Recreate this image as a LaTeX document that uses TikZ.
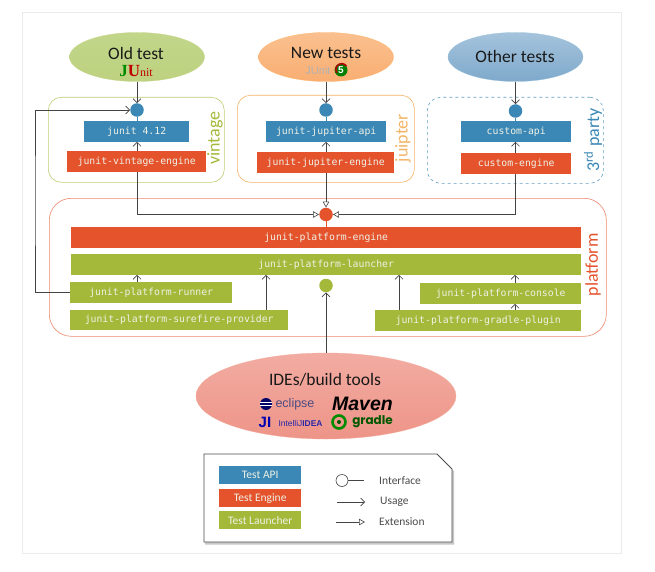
\documentclass[tikz,border=0pt]{standalone}
\usepackage{fontspec}
\setmainfont{Carlito}
\newfontfamily\monof{DejaVu Sans Mono}
\newfontfamily\serf{Liberation Serif}
\newfontfamily\arialf{Liberation Sans}
\newfontfamily\popf{Poppins}
\usetikzlibrary{arrows.meta,calc,shapes.geometric}
\definecolor{capi}{HTML}{3B87B5}
\definecolor{ceng}{HTML}{E5532D}
\definecolor{clau}{HTML}{A4B93A}
\definecolor{corg}{HTML}{F3B566}
\definecolor{cdark}{HTML}{444444}
\definecolor{boxtext}{HTML}{EEF2E6}
\tikzset{
  x=1pt,y=-1pt,
  modbox/.style={minimum width=#1,minimum height=20.5pt,inner sep=0pt,text=boxtext,font=\monof\fontsize{9.8}{11}\selectfont,anchor=north west},
  apibox/.style={modbox=#1,fill=capi},
  engbox/.style={modbox=#1,fill=ceng},
  laubox/.style={modbox=#1,fill=clau},
  portdot/.style={circle,minimum size=13.5pt,inner sep=0pt,fill=#1},
  groupbox/.style={draw=#1,line width=0.6pt,rounded corners=13pt,inner sep=0pt,anchor=north west},
  sidelbl/.style={rotate=90,font=\fontsize{18}{20}\selectfont,text=#1,inner sep=0pt},
  topell/.style={ellipse,inner sep=0pt,minimum width=135pt,minimum height=49pt},
  titletxt/.style={font=\fontsize{17.5}{20}\selectfont,text=black!90,inner sep=0pt},
  usesline/.style={draw=cdark,line width=0.8pt,-{Straight Barb[length=4pt,width=8pt,line width=0.6pt]}},
  extline/.style={draw=cdark,line width=0.8pt,-{Triangle[open,fill=white,length=6pt,width=6.5pt,line width=0.6pt]}},
  plainline/.style={draw=cdark,line width=0.7pt},
  legbox/.style={minimum width=82pt,minimum height=18pt,inner sep=0pt,text=boxtext,font=\fontsize{11.5}{13}\selectfont,anchor=north west},
  legtxt/.style={font=\fontsize{11.5}{13}\selectfont,text=black!70,anchor=west,inner sep=0pt},
}
\begin{document}
\begin{tikzpicture}
\useasboundingbox (0,0) rectangle (655,572);
\fill[white] (0,0) rectangle (655,572);
\draw[black!8,line width=0.7pt] (22.5,12.5) rectangle (621.5,553.5);

% groups
\node[groupbox=clau!70,minimum width=176pt,minimum height=85pt] (vintagebox) at (48,97) {};
\node[groupbox=corg,minimum width=177pt,minimum height=87pt] (jupiterbox) at (237,95) {};
\node[groupbox=capi!80,dashed,minimum width=176pt,minimum height=86pt] (thirdbox) at (427,97) {};
\node[groupbox=ceng!70,rounded corners=22pt,minimum width=557pt,minimum height=138pt] (platformbox) at (49,198) {};

\node[sidelbl=clau] (vintagelbl) at (215,138) {vintage};
\node[sidelbl=corg] (jupiterlbl) at (403,138) {juipter};
\node[sidelbl=capi] (thirdlbl) at (593,140) {3\textsuperscript{rd} party};
\node[sidelbl=ceng] (platformlbl) at (593,265) {platform};

% top ellipses
\definecolor{oldtop}{HTML}{C2D68A}\definecolor{oldbot}{HTML}{BDD180}
\definecolor{newtop}{HTML}{FAC08F}\definecolor{newbot}{HTML}{F9AE72}
\definecolor{othtop}{HTML}{A5C3DC}\definecolor{othbot}{HTML}{7EA9CB}
\node[topell,top color=oldtop,bottom color=oldbot,draw=clau!60,line width=0.3pt] (oldt) at (137,57) {};
\node[topell,top color=newtop,bottom color=newbot,draw=orange!60,line width=0.3pt] (newt) at (326,57) {};
\node[topell,top color=othtop,bottom color=othbot,draw=capi!50,line width=0.3pt] (othert) at (515.5,57) {};
\node[titletxt] (oldlbl) at (136,53) {Old test};
\node[inner sep=0pt,font=\serf\bfseries\fontsize{17}{19}\selectfont] (junit4) at (136,71) {\textcolor{green!55!black}{J}\textcolor{red!75!black}{U}\textcolor{red!75!black}{\mdseries\fontsize{12}{14}\selectfont nit}};
\node[titletxt] (newlbl) at (326,53) {New tests};
\node[inner sep=0pt,font=\arialf\fontsize{11}{13}\selectfont,text=black!30] (junit5) at (318,70.5) {JUnit};
\node[circle,fill=green!50!black,inner sep=0pt,minimum size=13pt,font=\arialf\bfseries\fontsize{10}{11}\selectfont] (five) at (341,70) {\textcolor{white}{5}};
\draw[red!70!black,line width=1.6pt] (five.35) arc (35:215:5.8pt);
\node[titletxt] (otherlbl) at (515,56) {Other tests};

% dots
\node[portdot=capi] (d1) at (137,110) {};
\node[portdot=capi] (d2) at (326,110) {};
\node[portdot=capi] (d3) at (515.5,111) {};
\node[portdot=ceng] (d4) at (326,214.5) {};
\node[portdot=clau] (d5) at (326,285.5) {};

% modules
\node[apibox=105pt] (junit412) at (84,121) {junit 4.12};
\node[engbox=139pt] (vintageeng) at (67,151) {junit-vintage-engine};
\node[apibox=120pt] (jupiterapi) at (266,121) {junit-jupiter-api};
\node[engbox=137pt] (jupitereng) at (257,152) {junit-jupiter-engine};
\node[apibox=110pt] (customapi) at (461,121) {custom-api};
\node[engbox=110pt] (customeng) at (461,153) {custom-engine};
\node[engbox=510pt] (plateng) at (71,227) {junit-platform-engine};
\node[laubox=510pt] (platlau) at (71,254) {junit-platform-launcher};
\node[laubox=162pt] (platrun) at (70,282) {junit-platform-runner};
\node[laubox=218pt] (platsure) at (70,309.5) {junit-platform-surefire-provider};
\node[laubox=161pt] (platcon) at (420,283) {junit-platform-console};
\node[laubox=206pt] (platgra) at (375,310) {junit-platform-gradle-plugin};

% IDE ellipse
\definecolor{idetop}{HTML}{F2ACA2}\definecolor{idebot}{HTML}{EE9488}
\node[ellipse,inner sep=0pt,minimum width=260pt,minimum height=86pt,top color=idetop,bottom color=idebot,draw=ceng!50,line width=0.3pt] (ides) at (326,396) {};
\node[titletxt] (ideslbl) at (325,380) {IDEs/build tools};
\node[circle,fill=blue!40!black,inner sep=0pt,minimum size=12pt] (ecl) at (266,404) {};
\draw[white,line width=0.8pt] (ecl.west) ++(0,-1.3) -- ++(12,0) (ecl.west) ++(0,1.3) -- ++(12,0);
\node[inner sep=0pt,font=\arialf\fontsize{12.5}{14}\selectfont,text=blue!30!black!70] (ecltxt) at (295,404) {eclipse};
\node[inner sep=0pt,font=\arialf\bfseries\itshape\fontsize{19.5}{21}\selectfont,text=black] (maven) at (362.5,404) {Maven};
\node[inner sep=0pt,font=\arialf\bfseries\fontsize{15}{17}\selectfont,text=blue!70!black] (ji) at (265,422) {JI};
\node[inner sep=0pt,font=\arialf\fontsize{8.4}{10}\selectfont,text=blue!60!black!85] (idea) at (300.5,423) {IntelliJ\textbf{IDEA}};
\node[circle,draw=green!55!black,line width=2.6pt,inner sep=0pt,minimum size=13pt] (graicon) at (339,422) {};
\node[circle,fill=green!35!black,inner sep=0pt,minimum size=4pt] (graeye) at (339,422) {};
\node[inner sep=0pt,font=\popf\bfseries\fontsize{12}{14}\selectfont,text=green!35!black] (gratxt) at (372.5,422) {gradle};

% connectors
\draw[usesline] (oldt.south) -- (d1.north);
\draw[usesline] (newt.south) -- (d2.north);
\draw[usesline] (othert.south) -- (d3.north);
\draw[capi,line width=1pt] (d1.south) -- (junit412.north -| d1.south);
\draw[capi,line width=1pt] (d2.south) -- (jupiterapi.north -| d2.south);
\draw[capi,line width=1pt] (d3.south) -- (customapi.north -| d3.south);
\draw[usesline] (vintageeng.north -| d1.south) -- (junit412.south -| d1.south);
\draw[usesline] (jupitereng.north -| d2.south) -- (jupiterapi.south -| d2.south);
\draw[usesline] (customeng.north -| d3.south) -- (customapi.south -| d3.south);
\draw[extline] (vintageeng.south -| d1.south) |- (d4.west);
\draw[extline] (jupitereng.south -| d4.north) -- (d4.north);
\draw[extline] (customeng.south -| d3.south) |- (d4.east);
\draw[ceng,line width=1pt] (d4.south) -- (plateng.north -| d4.south);
\coordinate (loopleft) at (35,200);
\draw[usesline] (platrun.west) -| (loopleft) |- (d1.west);
\draw[usesline] (platrun.north -| d1.south) -- (platlau.south -| d1.south);
\coordinate (surex) at (266,300);
\draw[usesline] (platsure.north -| surex) -- (platlau.south -| surex);
\coordinate (grax) at (399,300);
\draw[usesline] (platgra.north -| grax) -- (platlau.south -| grax);
\coordinate (conx) at (515,300);
\draw[usesline] (platcon.north -| conx) -- (platlau.south -| conx);
\draw[usesline] (platgra.north -| conx) -- (platcon.south -| conx);
\draw[usesline] (ides.north) -- (d5.south);

% legend
\fill[black!22] (205,456) -- (438,456) -- (454,471) -- (454,544.5) -- (205,544.5) -- cycle;
\draw[black!70,fill=white,line width=0.8pt] (204,454) -- (437,454) -- (452,469) -- (452,542) -- (204,542) -- cycle;
\node[legbox,fill=capi] (legapi) at (219,466) {Test API};
\node[legbox,fill=ceng] (legeng) at (219,489) {Test Engine};
\node[legbox,fill=clau] (leglau) at (219,511) {Test Launcher};
\node[circle,draw=cdark,line width=0.6pt,minimum size=12pt,inner sep=0pt] (legdot) at (342,480.5) {};
\coordinate (legdotend) at (364,480.5);
\draw[plainline] (legdot.east) -- (legdotend);
\node[legtxt] (legi) at (379,480.5) {Interface};
\coordinate (usea) at (337,502);
\coordinate (ext0) at (336,522);
\node[legtxt] (legu) at (380,502) {Usage};
\node[legtxt] (lege) at (379,522) {Extension};
\draw[usesline] (usea) -- ($(legu.west)+(-15,0)$);
\draw[extline] (ext0) -- ($(lege.west)+(-14,0)$);
\end{tikzpicture}
\end{document}
